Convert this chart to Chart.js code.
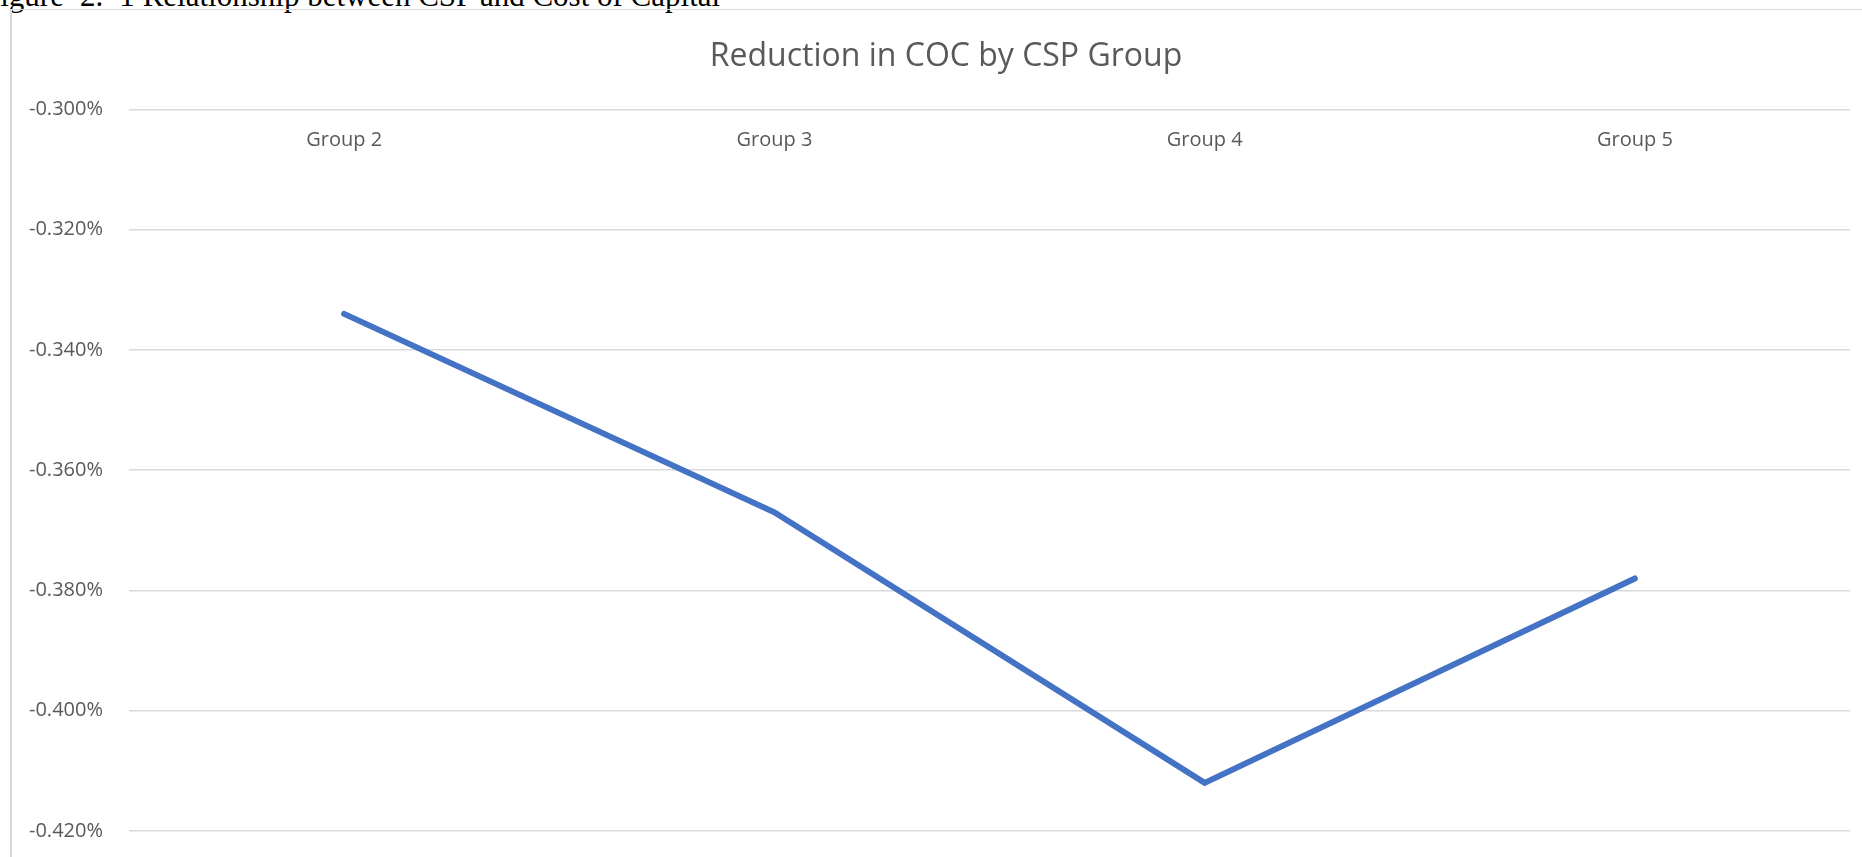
<!DOCTYPE html>
<html>
<head>
<meta charset="utf-8">
<script src="https://cdn.jsdelivr.net/npm/chart.js@4/dist/chart.umd.min.js"></script>
<style>
    html, body { margin: 0; padding: 0; background: #ffffff; overflow: hidden; }
    #wrap { position: relative; width: 1862px; height: 857px; }
    #chart { position: absolute; left: 0; top: 0; }
    #caption {
        position: absolute; left: -17px; top: -20px; white-space: nowrap;
        font-family: "Liberation Serif", "Times New Roman", serif; font-size: 31px; line-height: 31px; color: #000;
    }
    #caption span { margin-left: 16px; }
    #caption span.last { margin-left: 8px; }
    #frameLeft { position: absolute; left: 10px; top: 9px; width: 2px; height: 900px; background: #d9d9d9; }
    #frameTop { position: absolute; left: 10px; top: 9px; width: 1900px; height: 1px; background: #d9d9d9; }
</style>
</head>
<body>
<div id="wrap">
    <div id="caption">Figure<span>2.</span><span>1</span><span class="last">Relationship between CSP and Cost of Capital</span></div>
    <div id="frameLeft"></div>
    <div id="frameTop"></div>
    <canvas id="chart" width="1862" height="857"></canvas>
</div>
<script>
    const groups = ['Group 2', 'Group 3', 'Group 4', 'Group 5'];
    // reduction in cost of capital, in percent
    const cocReduction = [-0.334, -0.367, -0.412, -0.378];
    const yTicks = [-0.42, -0.40, -0.38, -0.36, -0.34, -0.32, -0.30];

    const textColor = '#595959';
    const gridColor = '#d9d9d9';

    const ctx = document.getElementById('chart').getContext('2d');
    const cocChart = new Chart(ctx, {
        type: 'line',
        data: {
            labels: groups,
            datasets: [
                {
                    label: 'Reduction in COC',
                    data: cocReduction,
                    borderColor: '#4472C4',
                    borderWidth: 6,
                    borderCapStyle: 'round',
                    borderJoinStyle: 'miter',
                    pointRadius: 0,
                    tension: 0,
                    fill: false
                }
            ]
        },
        options: {
            responsive: false,
            animation: false,
            layout: {
                padding: { top: 18, left: 42, right: 12, bottom: 26 }
            },
            plugins: {
                legend: { display: false },
                tooltip: { enabled: false },
                title: {
                    display: true,
                    text: 'Reduction in COC by CSP Group',
                    color: textColor,
                    font: { family: 'Open Sans', size: 32, weight: 'normal', lineHeight: 1.2 },
                    padding: { top: 20, bottom: 33 }
                }
            },
            scales: {
                x: {
                    // category labels sit just under the top gridline, like Excel's axis crossing at 0
                    position: { y: -0.30 },
                    offset: true,
                    grid: { display: false, drawTicks: false },
                    border: { display: false },
                    ticks: {
                        color: textColor,
                        padding: 19,
                        font: { family: 'Open Sans', size: 20 }
                    },
                    afterFit: function (scale) {
                        scale.height = 0;
                    }
                },
                y: {
                    min: -0.42,
                    max: -0.30,
                    grid: { color: gridColor, lineWidth: 1.5, drawTicks: false },
                    border: { display: false },
                    afterBuildTicks: function (scale) {
                        scale.ticks = yTicks.map(function (v) { return { value: v }; });
                    },
                    afterFit: function (scale) {
                        scale.width = 87;
                    },
                    ticks: {
                        color: textColor,
                        // mirrored labels are not clipped to the axis box, pull them back left
                        mirror: true,
                        padding: -100,
                        font: { family: 'Open Sans', size: 20 },
                        callback: function (value) {
                            return value.toFixed(3) + '%';
                        }
                    }
                }
            }
        }
    });
</script>
</body>
</html>
